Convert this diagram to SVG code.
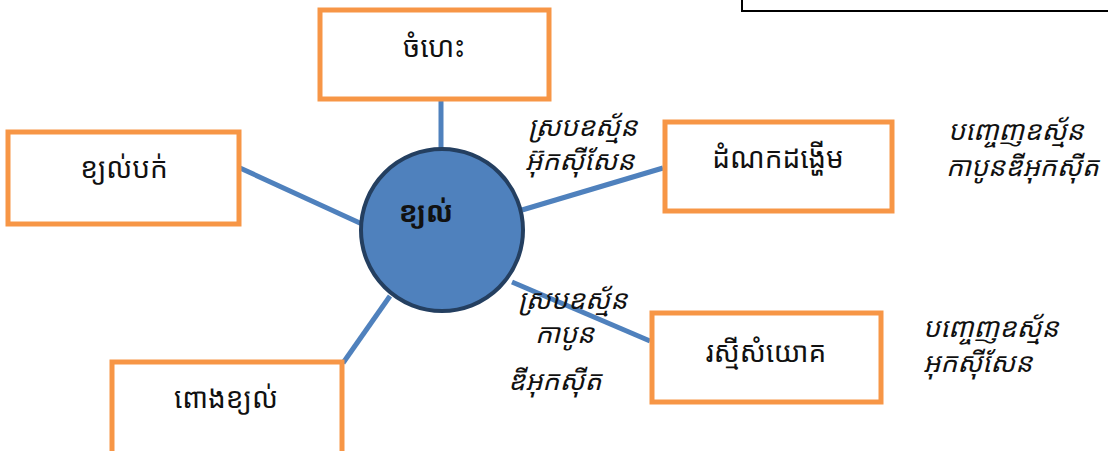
<svg xmlns="http://www.w3.org/2000/svg" width="1108" height="451" viewBox="0 0 1108 451">
<style>
.box{fill:#fff;stroke:#F79646;stroke-width:5}
.t{font-family:"Noto Sans Khmer","Noto Sans","DejaVu Sans",sans-serif;font-size:28px;fill:#111;text-anchor:middle}
.i{font-family:"Noto Sans Khmer","Noto Sans","DejaVu Sans",sans-serif;font-size:27px;font-style:italic;fill:#111}
.c{stroke:#4F81BD;stroke-width:5;fill:none}
</style>
<rect x="742" y="-10" width="380" height="21" fill="#fff" stroke="#000" stroke-width="2"/>
<g id="connectors">
<line class="c" x1="441" y1="100" x2="441" y2="150"/>
<line class="c" x1="240" y1="168" x2="362" y2="224"/>
<line class="c" x1="522" y1="210" x2="663" y2="168"/>
<line class="c" x1="512" y1="282" x2="650" y2="341"/>
<line class="c" x1="390" y1="296" x2="343" y2="363"/>
</g>
<g id="center">
<circle cx="442" cy="230" r="81" fill="#4F81BD" stroke="#243F60" stroke-width="4"/>
<text class="t" x="426" y="222" font-weight="bold">ខ្យល់</text>
</g>
<g id="n-top"><rect class="box" x="320" y="10" width="229" height="89"/><text class="t" x="434" y="57">ចំហេះ</text></g>
<g id="n-left"><rect class="box" x="8" y="132" width="231" height="92"/><text class="t" x="124" y="178">ខ្យល់បក់</text></g>
<g id="n-right"><rect class="box" x="665" y="122" width="227" height="89"/><text class="t" x="778" y="168">ដំណកដង្ហើម</text></g>
<g id="n-photo"><rect class="box" x="652" y="313" width="229" height="89"/><text class="t" x="766" y="362">រស្មីសំយោគ</text></g>
<g id="n-balloon"><rect class="box" x="112" y="362" width="230" height="100"/><text class="t" x="226" y="408">ពោងខ្យល់</text></g>
<g id="labels">
<text class="i" x="528" y="136">ស្របឧស្ម័ន</text>
<text class="i" x="525" y="170">អ៊ុកស៊ីសែន</text>
<text class="i" x="948" y="140">បញ្ចេញឧស្ម័ន</text>
<text class="i" x="946" y="176">កាបូនឌីអុកស៊ីត</text>
<text class="i" x="518" y="309">ស្របឧស្ម័ន</text>
<text class="i" x="535" y="343">កាបូន</text>
<text class="i" x="508" y="390">ឌីអុកស៊ីត</text>
<text class="i" x="923" y="337">បញ្ចេញឧស្ម័ន</text>
<text class="i" x="923" y="372">អុកស៊ីសែន</text>
</g>
</svg>
